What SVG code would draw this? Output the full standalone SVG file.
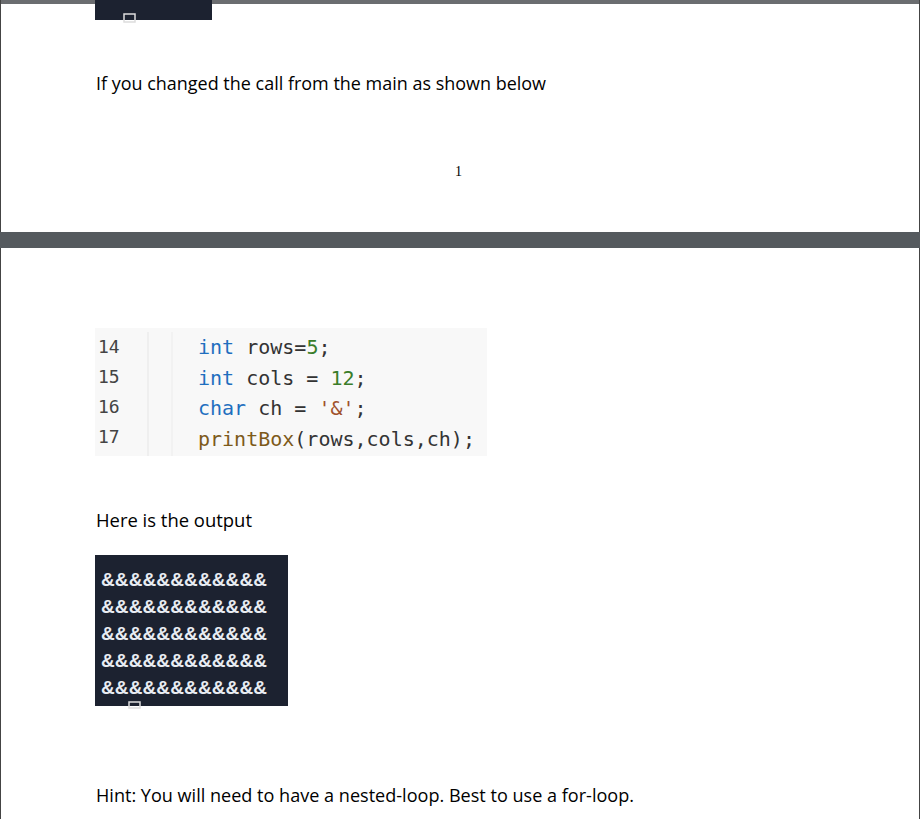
<svg xmlns="http://www.w3.org/2000/svg" width="920" height="819" viewBox="0 0 920 819">
<style>
.t{font-family:"Open Sans","Liberation Sans",sans-serif;font-size:17.5px;fill:#000}
.ln{font-family:"DejaVu Sans Mono","Liberation Mono",monospace;font-size:18px;fill:#444}
.c{font-family:"DejaVu Sans Mono","Liberation Mono",monospace;font-size:20px;fill:#333}
.kw{fill:#1f6fbf}.num{fill:#3a7d2a}.fn{fill:#7d5a1a}.str{fill:#a0522d}
.amp{font-family:"Liberation Sans",sans-serif;font-size:19px;fill:#e8ecf2;font-weight:bold}
</style>
<rect width="920" height="819" fill="#fff"/>
<g id="page1">
<rect x="0" y="0" width="920" height="4" fill="#6b6d70"/>
<line x1="0.5" y1="0" x2="0.5" y2="232" stroke="#444"/>
<line x1="919.5" y1="0" x2="919.5" y2="232" stroke="#444"/>
<rect x="95" y="0" width="117" height="20" fill="#1c2230"/>
<rect x="124" y="14" width="11" height="8" fill="none" stroke="#ddd" stroke-width="1.5"/>
<text class="t" x="96" y="90" textLength="450" lengthAdjust="spacingAndGlyphs">If you changed the call from the main as shown below</text>
<text x="455" y="176" font-family="Liberation Serif,serif" font-size="14">1</text>
</g>
<rect x="0" y="232" width="920" height="16" fill="#555a5e"/>
<g id="page2">
<line x1="0.5" y1="248" x2="0.5" y2="819" stroke="#444"/>
<line x1="919.5" y1="248" x2="919.5" y2="819" stroke="#444"/>
<rect x="95" y="328" width="392" height="128" fill="#f8f8f8"/>
<line x1="148" y1="332" x2="148" y2="456" stroke="#e6e6e6"/>
<line x1="172" y1="332" x2="172" y2="456" stroke="#ececec"/>
<text class="ln" x="98" y="353">14</text>
<text class="ln" x="98" y="383">15</text>
<text class="ln" x="98" y="413">16</text>
<text class="ln" x="98" y="443">17</text>
<text class="c" x="198" y="354"><tspan class="kw">int</tspan> rows=<tspan class="num">5</tspan>;</text>
<text class="c" x="198" y="385"><tspan class="kw">int</tspan> cols = <tspan class="num">12</tspan>;</text>
<text class="c" x="198" y="415"><tspan class="kw">char</tspan> ch = <tspan class="str">'&amp;'</tspan>;</text>
<text class="c" x="198" y="446"><tspan class="fn">printBox</tspan>(rows,cols,ch);</text>
<text class="t" x="96" y="527" textLength="156" lengthAdjust="spacingAndGlyphs">Here is the output</text>
<rect x="95" y="555" width="193" height="151" fill="#1c2230"/>
<text class="amp" x="101" y="586" textLength="166">&amp;&amp;&amp;&amp;&amp;&amp;&amp;&amp;&amp;&amp;&amp;&amp;</text>
<text class="amp" x="101" y="613" textLength="166">&amp;&amp;&amp;&amp;&amp;&amp;&amp;&amp;&amp;&amp;&amp;&amp;</text>
<text class="amp" x="101" y="640" textLength="166">&amp;&amp;&amp;&amp;&amp;&amp;&amp;&amp;&amp;&amp;&amp;&amp;</text>
<text class="amp" x="101" y="667" textLength="166">&amp;&amp;&amp;&amp;&amp;&amp;&amp;&amp;&amp;&amp;&amp;&amp;</text>
<text class="amp" x="101" y="694" textLength="166">&amp;&amp;&amp;&amp;&amp;&amp;&amp;&amp;&amp;&amp;&amp;&amp;</text>
<rect x="129" y="702" width="11" height="6" fill="none" stroke="#ddd" stroke-width="1.5"/>
<text class="t" x="96" y="802" textLength="538" lengthAdjust="spacingAndGlyphs">Hint: You will need to have a nested-loop. Best to use a for-loop.</text>
</g>
</svg>
